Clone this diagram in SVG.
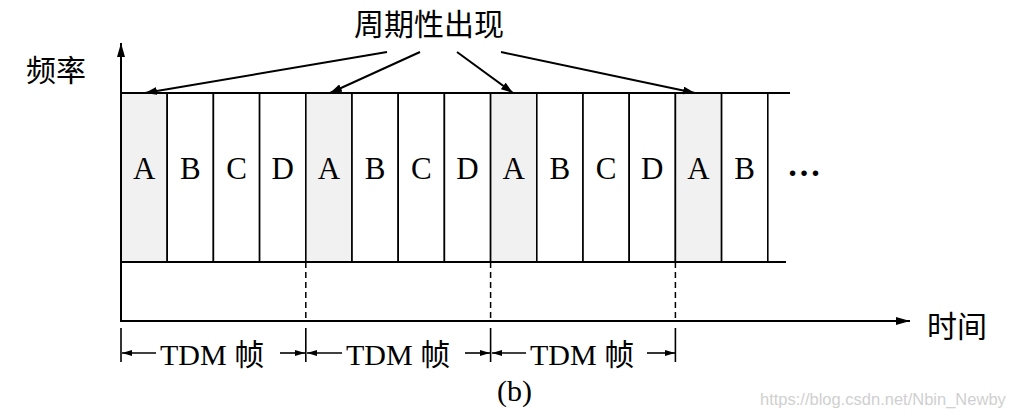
<svg xmlns="http://www.w3.org/2000/svg" width="1010" height="419" viewBox="0 0 1010 419">
<style>
.ln{stroke:#000;stroke-width:2;fill:none}
.thin{stroke:#000;stroke-width:1.6;fill:none}
.dash{stroke:#000;stroke-width:1.5;stroke-dasharray:6 4;fill:none}
.cell{fill:#fff;stroke:#000;stroke-width:1.6}
.shade{fill:#f1f1f1;stroke:#000;stroke-width:1.6}
.t{font-family:"Liberation Serif","Noto Sans CJK SC",serif;font-size:30px;fill:#000}
.big{font-size:31px}
.cl{text-anchor:middle}
.dots{font-family:"Liberation Serif",serif;font-size:34px;font-weight:bold;fill:#000}
.wm{font-family:"Liberation Sans",Arial,sans-serif;font-size:16.5px;fill:#d0d0d0}
</style>
<defs>
<marker id="ah" viewBox="0 0 12 8" refX="12" refY="4" markerWidth="12" markerHeight="8" markerUnits="userSpaceOnUse" orient="auto">
<path d="M0,0 L12,4 L0,8 Z" fill="#000"/>
</marker>
<marker id="ax" viewBox="0 0 14 8" refX="14" refY="4" markerWidth="14" markerHeight="8" markerUnits="userSpaceOnUse" orient="auto">
<path d="M0,0 L14,4 L0,8 Z" fill="#000"/>
</marker>
<marker id="sm" viewBox="0 0 10 6" refX="10" refY="3" markerWidth="10" markerHeight="6" markerUnits="userSpaceOnUse" orient="auto">
<path d="M0,0 L10,3 L0,6 Z" fill="#000"/>
</marker>
</defs>

<g id="cells">
<rect class="shade" x="121" y="93" width="46.2" height="169"/>
<rect class="cell" x="167.2" y="93" width="46.2" height="169"/>
<rect class="cell" x="213.4" y="93" width="46.2" height="169"/>
<rect class="cell" x="259.6" y="93" width="46.2" height="169"/>
<rect class="shade" x="305.8" y="93" width="46.2" height="169"/>
<rect class="cell" x="352" y="93" width="46.2" height="169"/>
<rect class="cell" x="398.2" y="93" width="46.2" height="169"/>
<rect class="cell" x="444.4" y="93" width="46.2" height="169"/>
<rect class="shade" x="490.6" y="93" width="46.2" height="169"/>
<rect class="cell" x="536.8" y="93" width="46.2" height="169"/>
<rect class="cell" x="583" y="93" width="46.2" height="169"/>
<rect class="cell" x="629.2" y="93" width="46.2" height="169"/>
<rect class="shade" x="675.4" y="93" width="46.2" height="169"/>
<rect class="cell" x="721.6" y="93" width="46.2" height="169"/>
<line class="ln" x1="121" y1="93" x2="790" y2="93"/>
<line class="ln" x1="121" y1="262" x2="786" y2="262"/>
<text class="t big cl" x="144.1" y="179">A</text>
<text class="t big cl" x="190.3" y="179">B</text>
<text class="t big cl" x="236.5" y="179">C</text>
<text class="t big cl" x="282.7" y="179">D</text>
<text class="t big cl" x="328.9" y="179">A</text>
<text class="t big cl" x="375.1" y="179">B</text>
<text class="t big cl" x="421.3" y="179">C</text>
<text class="t big cl" x="467.5" y="179">D</text>
<text class="t big cl" x="513.7" y="179">A</text>
<text class="t big cl" x="559.9" y="179">B</text>
<text class="t big cl" x="606.1" y="179">C</text>
<text class="t big cl" x="652.3" y="179">D</text>
<text class="t big cl" x="698.5" y="179">A</text>
<text class="t big cl" x="744.7" y="179">B</text>
<text class="dots" x="787" y="176">…</text>
</g>

<g id="axes">
<line class="ln" x1="121" y1="322" x2="121" y2="43" marker-end="url(#ax)"/>
<line class="ln" x1="120" y1="321" x2="910" y2="321" marker-end="url(#ax)"/>
<text class="t" x="26" y="81">频率</text>
<text class="t" x="927" y="337">时间</text>
</g>

<g id="label-periodic">
<text class="t" x="354" y="35">周期性出现</text>
</g>

<g id="connectors">
<line class="ln" x1="387" y1="52" x2="145" y2="93" marker-end="url(#ah)"/>
<line class="ln" x1="420" y1="52" x2="330" y2="93" marker-end="url(#ah)"/>
<line class="ln" x1="457" y1="52" x2="513" y2="93" marker-end="url(#ah)"/>
<line class="ln" x1="501" y1="52" x2="695" y2="93" marker-end="url(#ah)"/>
<line class="dash" x1="305.8" y1="262" x2="305.8" y2="321"/>
<line class="dash" x1="490.6" y1="262" x2="490.6" y2="321"/>
<line class="dash" x1="675.4" y1="262" x2="675.4" y2="321"/>
</g>

<g id="tdm-frames">
<line class="thin" x1="121" y1="328" x2="121" y2="362"/>
<line class="thin" x1="305.8" y1="328" x2="305.8" y2="362"/>
<line class="thin" x1="490.6" y1="328" x2="490.6" y2="362"/>
<line class="thin" x1="675.4" y1="328" x2="675.4" y2="362"/>
<line class="thin" x1="156" y1="353" x2="122" y2="353" marker-end="url(#sm)"/>
<line class="thin" x1="280" y1="353" x2="305" y2="353" marker-end="url(#sm)"/>
<line class="thin" x1="342" y1="353" x2="307" y2="353" marker-end="url(#sm)"/>
<line class="thin" x1="465" y1="353" x2="490" y2="353" marker-end="url(#sm)"/>
<line class="thin" x1="526" y1="353" x2="492" y2="353" marker-end="url(#sm)"/>
<line class="thin" x1="647" y1="353" x2="675" y2="353" marker-end="url(#sm)"/>
<text class="t" x="160" y="365">TDM 帧</text>
<text class="t" x="346" y="365">TDM 帧</text>
<text class="t" x="530" y="365">TDM 帧</text>
</g>

<g id="caption">
<text class="t" x="497" y="401">(b)</text>
<text class="wm" x="760" y="405">https://blog.csdn.net/Nbin_Newby</text>
</g>
</svg>
